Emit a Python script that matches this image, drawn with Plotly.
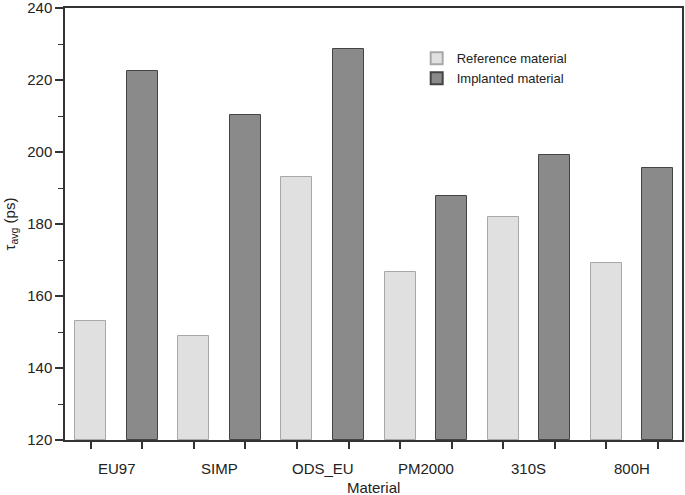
import plotly.graph_objects as go

materials = ["EU97", "SIMP", "ODS_EU", "PM2000", "310S", "800H"]
reference_vals = [153.0, 149.0, 193.0, 166.7, 182.0, 169.2]
implanted_vals = [222.5, 210.2, 228.5, 187.8, 199.2, 195.5]

ref_x = [2 * i + 1 for i in range(len(materials))]
imp_x = [2 * i + 2 for i in range(len(materials))]
label_x = [2 * i + 1.5 for i in range(len(materials))]

FONT = "Liberation Sans, Arial, sans-serif"

fig = go.Figure()
fig.add_trace(go.Bar(
    x=ref_x, y=[v - 120 for v in reference_vals], base=120,
    name="Reference material", width=0.6,
    marker=dict(color="#e0e0e0", line=dict(color="#a8a8a8", width=1)),
))
fig.add_trace(go.Bar(
    x=imp_x, y=[v - 120 for v in implanted_vals], base=120,
    name="Implanted material", width=0.6,
    marker=dict(color="#8a8a8a", line=dict(color="#444444", width=1)),
))

for lx, m in zip(label_x, materials):
    fig.add_annotation(x=lx, y=0, xref="x", yref="paper", yanchor="top",
                       yshift=-18, text=m, showarrow=False,
                       font=dict(family=FONT, size=15, color="#222222"))

fig.add_annotation(x=0.5, y=0, xref="paper", yref="paper", yanchor="top",
                   yshift=-37, text="Material", showarrow=False,
                   font=dict(family=FONT, size=15, color="#222222"))

fig.update_layout(
    width=685, height=495,
    margin=dict(l=65, r=3, t=8, b=55, autoexpand=False),
    paper_bgcolor="white", plot_bgcolor="white",
    font=dict(family=FONT, size=15, color="#222222"),
    showlegend=True,
    legend=dict(x=0.57, y=0.918, xanchor="left", yanchor="top",
                bgcolor="rgba(0,0,0,0)", font=dict(family=FONT, size=13, color="#222222"),
                tracegroupgap=0, itemsizing="constant", itemwidth=30),
    bargap=0,
)
fig.update_xaxes(
    range=[0.5, 12.47], tickvals=ref_x + imp_x, showticklabels=False,
    ticks="outside", ticklen=7, tickwidth=1.5, tickcolor="#333333",
    showline=True, linecolor="#333333", linewidth=1.5, mirror=True,
    showgrid=False, zeroline=False, automargin=False,
)
fig.update_yaxes(
    range=[120, 240], tickvals=[120, 140, 160, 180, 200, 220, 240],
    ticks="outside", ticklen=8, tickwidth=1.5, tickcolor="#333333",
    minor=dict(dtick=10, ticks="outside", ticklen=5, tickwidth=1.2, tickcolor="#333333"),
    showline=True, linecolor="#333333", linewidth=1.5, mirror=True,
    showgrid=False, zeroline=False, automargin=False,
    ticklabeloverflow="allow",
    tickfont=dict(family=FONT, size=15),
    title=dict(text="τ<sub>avg</sub> (ps)", font=dict(family=FONT, size=15), standoff=8),
)

fig.write_html("out.html", config={"displayModeBar": False},
               post_script="document.body.style.margin='0';")
